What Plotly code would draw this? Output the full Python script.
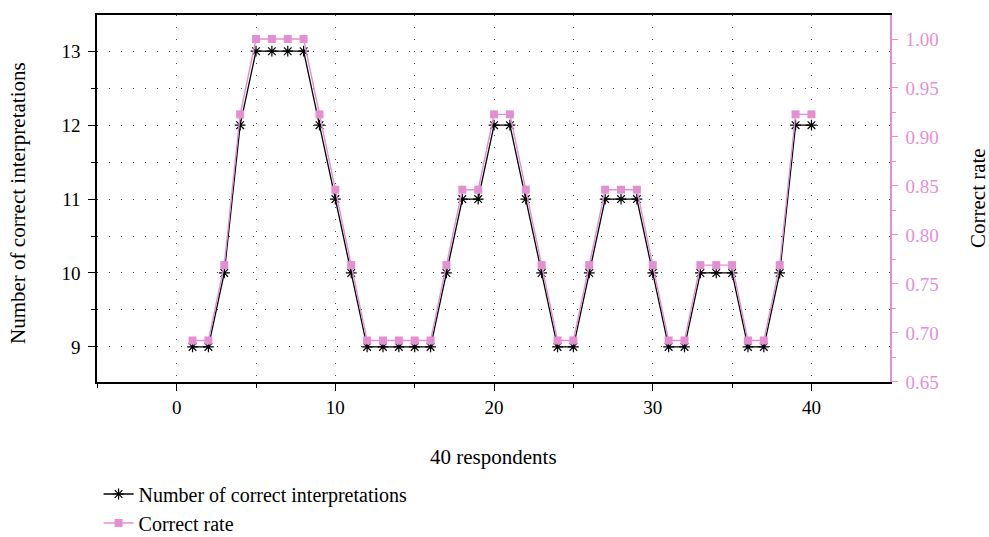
import plotly.graph_objects as go

respondents = list(range(1, 41))
correct_counts = [9, 9, 10, 12, 13, 13, 13, 13, 12, 11,
                  10, 9, 9, 9, 9, 9, 10, 11, 11, 12,
                  12, 11, 10, 9, 9, 10, 11, 11, 11, 10,
                  9, 9, 10, 10, 10, 9, 9, 10, 12, 12]
correct_rate = [round(c / 13, 4) for c in correct_counts]

FONT = "Liberation Serif"
PINK = "#E48FD2"
GRID = "#444444"
DOT = "1px,11px"

fig = go.Figure()
fig.add_trace(go.Scatter(
    x=respondents, y=correct_rate, name="Correct rate", yaxis="y2",
    mode="lines+markers",
    line=dict(color=PINK, width=1.4),
    marker=dict(symbol="square", size=8, color=PINK, line=dict(width=0)),
))
fig.add_trace(go.Scatter(
    x=respondents, y=correct_counts, name="Number of correct interpretations",
    mode="lines+markers",
    line=dict(color="black", width=1.3),
    marker=dict(symbol="asterisk-open", size=9, color="black", line=dict(width=1.2, color="black")),
))

fig.update_layout(
    width=989, height=537,
    margin=dict(l=97, r=99, t=15, b=155, autoexpand=False),
    paper_bgcolor="white", plot_bgcolor="white",
    font=dict(family=FONT, size=19, color="black"),
    showlegend=True,
    legend=dict(orientation="v", x=0.002, xanchor="left", y=-0.252, yanchor="top",
                font=dict(family=FONT, size=20, color="black"),
                traceorder="reversed", tracegroupgap=0, itemwidth=30,
                bgcolor="rgba(0,0,0,0)"),
    xaxis=dict(
        range=[-5.02, 44.95], dtick=10, tick0=0, automargin=False,
        showline=True, linecolor="black", linewidth=1.5, mirror=True,
        ticks="outside", ticklen=7, tickwidth=1.3, tickcolor="black",
        showgrid=True, gridcolor=GRID, gridwidth=1, griddash=DOT,
        zeroline=False,
        minor=dict(dtick=5, tick0=0, ticks="outside", ticklen=4, tickcolor="black",
                   showgrid=True, gridcolor=GRID, gridwidth=1, griddash=DOT),
        tickfont=dict(family=FONT, size=19, color="black"),
    ),
    yaxis=dict(
        range=[8.525, 13.49], dtick=1, tick0=9, automargin=False,
        showline=True, linecolor="black", linewidth=1.5,
        ticks="outside", ticklen=7, tickwidth=1.3, tickcolor="black",
        showgrid=True, gridcolor=GRID, gridwidth=1, griddash=DOT,
        zeroline=False, ticklabelstandoff=4,
        minor=dict(dtick=0.5, tick0=9, ticks="outside", ticklen=4, tickcolor="black",
                   showgrid=True, gridcolor=GRID, gridwidth=1, griddash=DOT),
        tickfont=dict(family=FONT, size=19, color="black"),
    ),
    yaxis2=dict(
        overlaying="y", side="right", automargin=False,
        range=[0.6499, 1.0245], dtick=0.05, tick0=0.65, tickformat=".2f",
        showline=True, linecolor=PINK, linewidth=1.5,
        ticks="outside", ticklen=6, tickwidth=1.3, tickcolor=PINK,
        showgrid=False, zeroline=False, ticklabelstandoff=4,
        minor=dict(dtick=0.025, tick0=0.65, ticks="outside", ticklen=4, tickcolor=PINK, showgrid=False),
        tickfont=dict(family=FONT, size=19, color=PINK),
    ),
    annotations=[
        dict(text="40 respondents", xref="paper", yref="paper", x=0.5, y=(382 - 457) / 367,
             xanchor="center", yanchor="middle", showarrow=False,
             font=dict(family=FONT, size=21, color="black")),
        dict(text="Number of correct interpretations", xref="paper", yref="paper",
             x=(18 - 97) / 793, y=(382 - 203) / 367, textangle=-90,
             xanchor="center", yanchor="middle", showarrow=False,
             font=dict(family=FONT, size=21, color="black")),
        dict(text="Correct rate", xref="paper", yref="paper",
             x=(978 - 97) / 793, y=(382 - 198) / 367, textangle=-90,
             xanchor="center", yanchor="middle", showarrow=False,
             font=dict(family=FONT, size=21, color="black")),
    ],
)

fig.write_html("out.html", config={"displayModeBar": False},
               post_script="document.body.style.margin='0px';document.body.style.overflow='hidden';")
